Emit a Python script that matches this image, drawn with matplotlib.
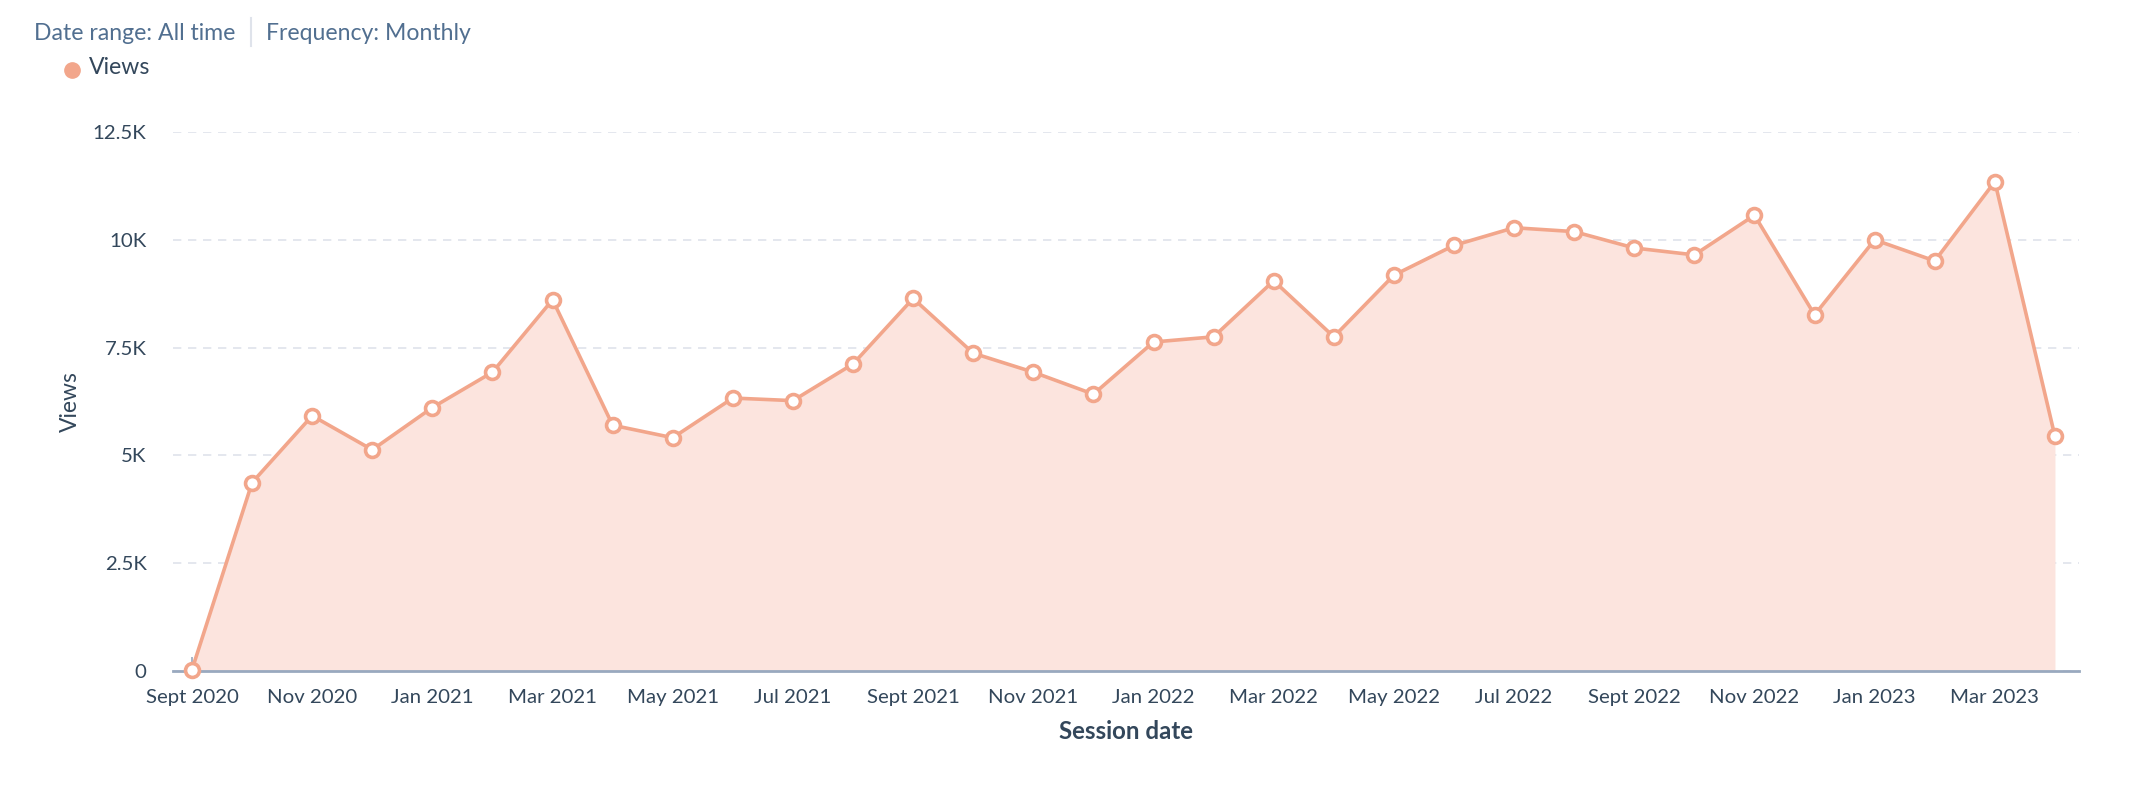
import matplotlib
matplotlib.use("Agg")
import matplotlib.pyplot as plt
from matplotlib.lines import Line2D
import numpy as np

months = ["Sept 2020", "Oct 2020", "Nov 2020", "Dec 2020", "Jan 2021", "Feb 2021", "Mar 2021",
          "Apr 2021", "May 2021", "Jun 2021", "Jul 2021", "Aug 2021", "Sept 2021", "Oct 2021",
          "Nov 2021", "Dec 2021", "Jan 2022", "Feb 2022", "Mar 2022", "Apr 2022", "May 2022",
          "Jun 2022", "Jul 2022", "Aug 2022", "Sept 2022", "Oct 2022", "Nov 2022", "Dec 2022",
          "Jan 2023", "Feb 2023", "Mar 2023", "Apr 2023"]
views = [30, 4370, 5920, 5130, 6110, 6930, 8610, 5700, 5410, 6330, 6270, 7120, 8640, 7370,
         6930, 6420, 7630, 7750, 9050, 7750, 9180, 9870, 10280, 10190, 9810, 9650, 10570, 8260,
         10000, 9510, 11350, 5440]
y_ticks = [0, 2500, 5000, 7500, 10000, 12500]
y_tick_labels = ["0", "2.5K", "5K", "7.5K", "10K", "12.5K"]

plt.rcParams['font.family'] = ['Lato', 'DejaVu Sans']

LINE = "#f2a68b"
FILL = "#fce4de"
TEXT = "#33475b"
HEAD = "#516f90"
GRID = "#dfe3eb"
AXIS = "#99a9bf"

W, H = 2134, 798
fig = plt.figure(figsize=(W / 100, H / 100), dpi=100)
ax = fig.add_axes([173 / W, 1 - 671 / H, (2079 - 173) / W, (671 - 132) / H])

x = np.arange(len(months))
ax.fill_between(x, views, 0, color=FILL, linewidth=0, zorder=1)
ax.plot(x, views, color=LINE, linewidth=2.6, zorder=3, clip_on=False,
        marker="o", markersize=10, markerfacecolor="white", markeredgecolor=LINE,
        markeredgewidth=2.6)

ax.set_xlim(-0.316, 31.4)
ax.set_ylim(0, 12500)
ax.set_yticks(y_ticks)
ax.set_yticklabels(y_tick_labels)
ax.set_xticks(x[::2])
ax.set_xticklabels(months[::2])

for s in ["top", "right", "left"]:
    ax.spines[s].set_visible(False)
ax.spines["bottom"].set_color(AXIS)
ax.spines["bottom"].set_linewidth(2)
ax.spines["bottom"].set_zorder(2)

ax.tick_params(axis="x", direction="in", length=10, width=1.2, color=AXIS,
               labelsize=14.7, labelcolor=TEXT, pad=13)
ax.tick_params(axis="y", length=0, labelsize=14.7, labelcolor=TEXT, pad=19)
ax.yaxis.grid(True, color=GRID, linestyle=(0, (5, 4)), linewidth=1.2, zorder=0)
ax.set_axisbelow(True)

ax.set_ylabel("Views", fontsize=16.5, color=TEXT)
ax.yaxis.set_label_coords((81 - 173) / (2079 - 173), 0.5)
ax.set_xlabel("Session date", fontsize=17.3, color=TEXT, fontweight="bold", labelpad=10)

fig.text(34 / W, 1 - 33 / H, "Date range: All time", fontsize=16.6, color=HEAD,
         ha="left", va="center")
fig.add_artist(Line2D([251 / W, 251 / W], [1 - 18 / H, 1 - 46 / H], color=GRID, linewidth=1.5))
fig.text(266 / W, 1 - 33 / H, "Frequency: Monthly", fontsize=16.6, color=HEAD,
         ha="left", va="center")
fig.add_artist(Line2D([72 / W], [1 - 70 / H], marker="o", markersize=11, color=LINE,
                      linestyle="none"))
fig.text(89 / W, 1 - 68 / H, "Views", fontsize=16.6, color=TEXT, ha="left", va="center")

fig.savefig("out.png", dpi=100, facecolor="white")
